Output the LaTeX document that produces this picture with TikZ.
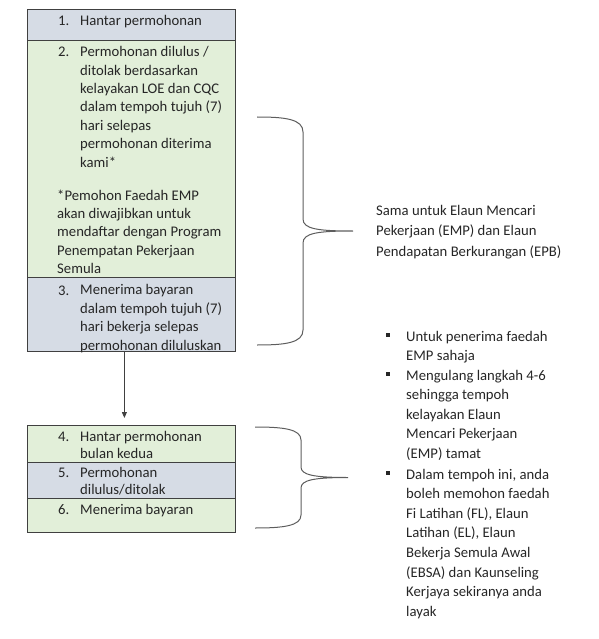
\documentclass[tikz,border=0pt]{standalone}
\usepackage{fontspec}
\setmainfont{Carlito}
\usetikzlibrary{arrows.meta,positioning}
\definecolor{rowblue}{HTML}{D6DCE5}
\definecolor{rowgreen}{HTML}{E2EFD9}
\definecolor{edge}{HTML}{404040}
\definecolor{ink}{HTML}{262626}

\begin{document}
\begin{tikzpicture}[x=1pt,y=-1pt,
  row/.style={draw=edge,line width=0.8pt,inner sep=0pt,minimum width=208pt,anchor=north west},
  txt/.style={font=\fontsize{14.7}{18.4}\selectfont,text=ink,align=left,inner sep=0pt,anchor=base west},
  note/.style={txt,font=\fontsize{14.7}{19.6}\selectfont},
  brace/.style={draw=edge!85,line width=1pt},
  sq/.style={fill=ink,inner sep=0pt,minimum size=3.4pt}]
\useasboundingbox (0,0) rectangle (598,639);
% rows of the two boxes
\foreach \nm/\yt/\hh/\col in {
  r1/9/31/rowblue, r2/40/237/rowgreen, r3/277/74/rowblue,
  r4/425/36.7/rowgreen, r5/461.7/36.6/rowblue, r6/498.3/33.4/rowgreen}{
  \node[row,fill=\col,minimum height=\hh pt] (\nm) at (27,\yt) {};
}
% step texts (placed at the baseline of their last line)
\node[txt] (n1) at (58,26) {1.};
\node[txt] (t1) at (80,26) {Hantar permohonan};
\node[txt] (n2) at (58,56.7) {2.};
\node[txt] (t2) at (80,167.1) {Permohonan dilulus /\\ditolak berdasarkan\\kelayakan LOE dan CQC\\dalam tempoh tujuh (7)\\hari selepas\\permohonan diterima\\kami*};
\node[txt] (f2) at (57,273.6) {*Pemohon Faedah EMP\\akan diwajibkan untuk\\mendaftar dengan Program\\Penempatan Pekerjaan\\Semula};
\node[txt] (n3) at (58,295) {3.};
\node[txt] (t3) at (80,350) {Menerima bayaran\\dalam tempoh tujuh (7)\\hari bekerja selepas\\permohonan diluluskan};
\node[txt] (n4) at (58,441) {4.};
\node[txt,font=\fontsize{14.7}{17.6}\selectfont] (t4) at (80,458.6) {Hantar permohonan\\bulan kedua};
\node[txt] (n5) at (58,477) {5.};
\node[txt,font=\fontsize{14.7}{17.6}\selectfont] (t5) at (80,494.6) {Permohonan\\dilulus/ditolak};
\node[txt] (n6) at (58,514) {6.};
\node[txt] (t6) at (80,514) {Menerima bayaran};
% arrow between the boxes
\draw[-{Triangle[width=5pt,length=6pt]},edge,line width=0.8pt]
  ([xshift=-7pt]r3.south) -- ([xshift=-7pt,yshift=7pt]r4.north);
% braces
\draw[brace] (257,117) .. controls (285,117) and (303,119) .. (303,132)
  -- (303,219) .. controls (303,229) and (318,231) .. (353,231)
  .. controls (318,231) and (303,233) .. (303,243)
  -- (303,330) .. controls (303,343) and (285,345) .. (257,345);
\draw[brace] (255,427) .. controls (283,427) and (301,429) .. (301,440)
  -- (301,467) .. controls (301,475) and (314,477.5) .. (348,477.5)
  .. controls (314,477.5) and (301,480) .. (301,488)
  -- (301,515) .. controls (301,526) and (283,528) .. (255,528);
% side notes
\node[txt,font=\fontsize{14.7}{20.5}\selectfont] (same) at (376,256) {Sama untuk Elaun Mencari\\Pekerjaan (EMP) dan Elaun\\Pendapatan Berkurangan (EPB)};
\node[note] (p1) at (406,360.6) {Untuk penerima faedah\\EMP sahaja};
\node[note] (p2) at (406,458.4) {Mengulang langkah 4-6\\sehingga tempoh\\kelayakan Elaun\\Mencari Pekerjaan\\(EMP) tamat};
\node[note] (p3) at (406,616.2) {Dalam tempoh ini, anda\\boleh memohon faedah\\Fi Latihan (FL), Elaun\\Latihan (EL), Elaun\\Bekerja Semula Awal\\(EBSA) dan Kaunseling\\Kerjaya sekiranya anda\\layak};
\node[sq] (s1) at (388,335) {};
\node[sq] (s2) at (388,374) {};
\node[sq] (s3) at (388,473) {};
\end{tikzpicture}
\end{document}
